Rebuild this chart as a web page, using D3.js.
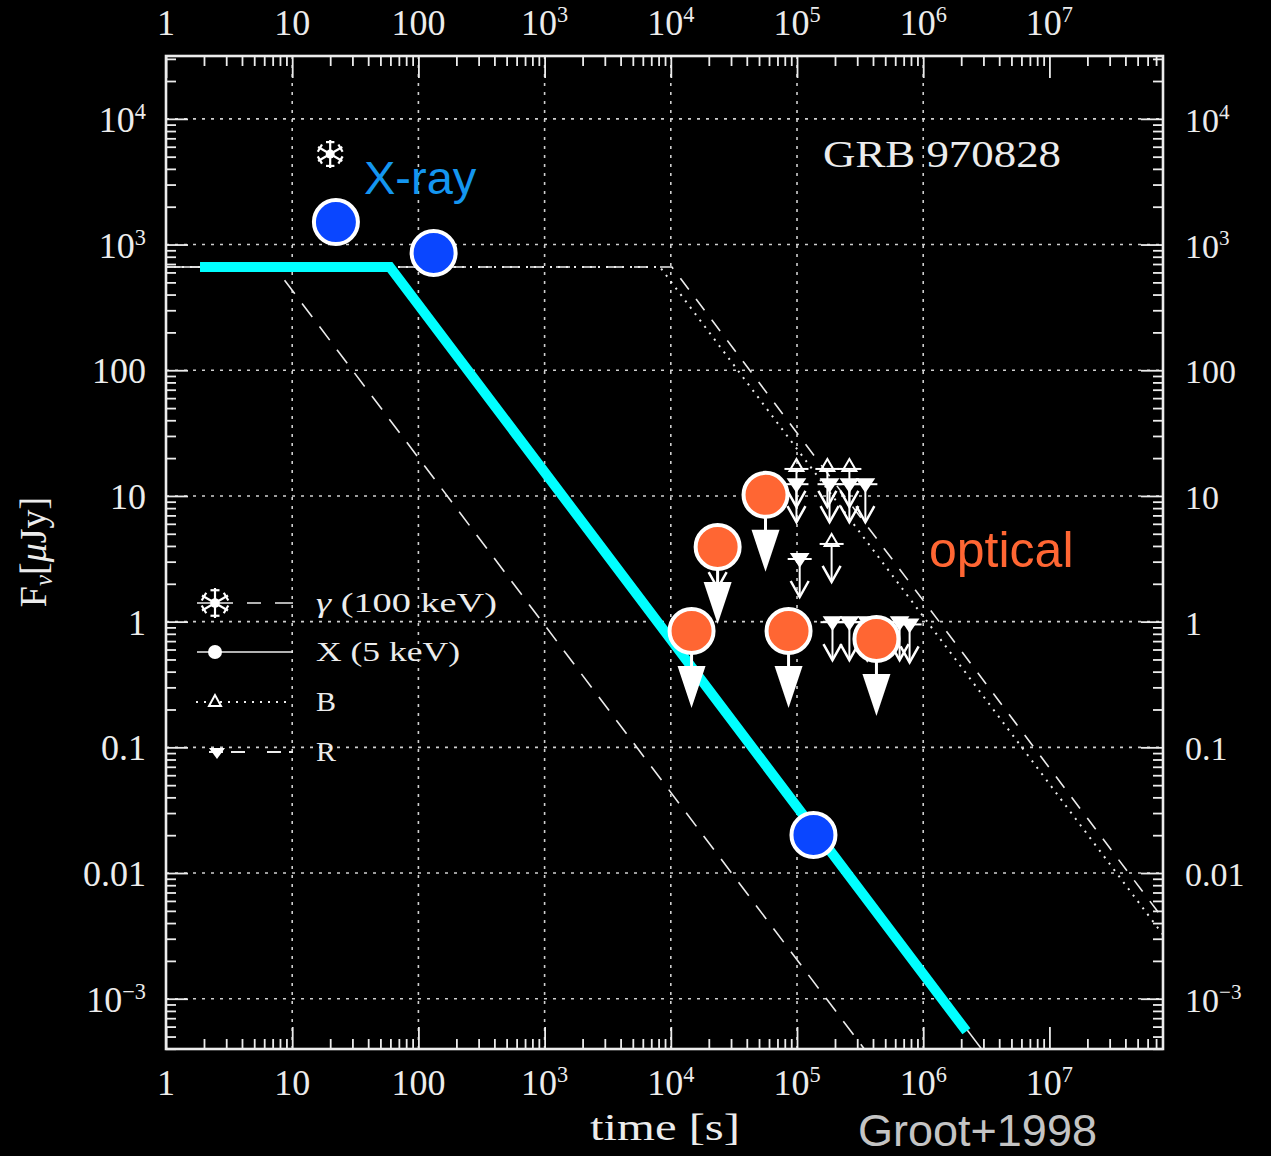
<!DOCTYPE html>
<html><head><meta charset="utf-8">
<script src="https://cdn.jsdelivr.net/npm/d3@7"></script>
<style>html,body{margin:0;padding:0;background:#000;} svg{display:block}</style>
</head><body>
<svg id="chart" width="1271" height="1156"></svg>
<script>
// ---------------- data ----------------
const xTickValues = [1, 10, 100, 1e3, 1e4, 1e5, 1e6, 1e7];
const xTickLabels = ["1", "10", "100", "10^3", "10^4", "10^5", "10^6", "10^7"];
const yTickValues = [1e-3, 0.01, 0.1, 1, 10, 100, 1e3, 1e4];
const yTickLabels = ["10^−3", "0.01", "0.1", "1", "10", "100", "10^3", "10^4"];
const xGridValues = [10, 100, 1e3, 1e4, 1e5, 1e6];

// gamma-ray point (100 keV)
const gammaT = [20];
const gammaF = [5250];
// X-ray points (highlighted)
const xrayT = [22.2, 132, 1.35e5];
const xrayF = [1510, 857, 0.0201];
// optical upper limits (highlighted)
const opticalT = [5.63e4, 2.35e4, 1.46e4, 8.57e4, 4.26e5];
const opticalF = [10.2, 3.93, 0.843, 0.843, 0.728];
// original B-band upper limits
const bLimT = [9.9e4, 1.74e5, 2.6e5, 1.88e5];
const bLimF = [16.4, 16.4, 16.4, 4.15];
// original R-band upper limits
const rLimT = [9.9e4, 1.81e5, 2.6e5, 3.48e5, 1.05e5, 1.91e5, 2.6e5, 3.6e5, 6.5e5, 7.8e5, 2.35e4];
const rLimF = [12.4, 12.4, 12.4, 12.4, 3.15, 0.99, 0.99, 0.99, 0.99, 0.95, 3.7];

// model curves
const gModelT = [8.7, 3.4e5];
const gModelF = [520, 4e-4];
const xModelT = [1, 59.4, 2.9e6];
const xModelF = [663, 663, 3.98e-4];
const bModelT = [1, 8200, 8e7];
const bModelF = [663, 663, 3.2e-3];
const rModelT = [1, 1.02e4, 8e7];
const rModelF = [663, 663, 4.3e-3];
const cyanT = [1.86, 59.4, 2.2e6];
const cyanF = [663, 663, 5.5e-4];

// ---------------- chart ----------------
const svg = d3.select("#chart");
svg.append("rect").attr("width", 1271).attr("height", 1156).attr("fill", "#000");

const L = 166, R = 1163, T = 56, B = 1049;
const x = d3.scaleLog().domain([1, Math.pow(10, 7.9)]).range([L, R]);
const y = d3.scaleLog().domain([Math.pow(10, -3.4), Math.pow(10, 4.5)]).range([B, T]);

const SERIF = "'Liberation Serif','DejaVu Serif',serif";
const SANS = "'Liberation Sans',Arial,sans-serif";
const WHITE = "#ececec";

// grid
const grid = svg.append("g").attr("stroke", "#cfcfcf").attr("stroke-width", 1.6)
  .attr("stroke-dasharray", "3,6");
grid.selectAll("line.v").data(xGridValues).join("line")
  .attr("x1", d => x(d)).attr("x2", d => x(d)).attr("y1", T).attr("y2", B);
grid.selectAll("line.h").data(yTickValues).join("line")
  .attr("y1", d => y(d)).attr("y2", d => y(d)).attr("x1", L).attr("x2", R);

// model lines
const line = d3.line().x(d => x(d[0])).y(d => y(d[1]));
const zip = (a, b) => a.map((v, i) => [v, b[i]]);
const models = svg.append("g").attr("fill", "none").attr("stroke", WHITE);
models.append("path").attr("d", line(zip(gModelT, gModelF))).attr("stroke-width", 1.6).attr("stroke-dasharray", "17,12");
models.append("path").attr("d", line(zip(xModelT, xModelF))).attr("stroke-width", 1.5);
models.append("path").attr("d", line(zip(bModelT, bModelF))).attr("stroke-width", 2).attr("stroke-dasharray", "2,6");
models.append("path").attr("d", line(zip(rModelT, rModelF))).attr("stroke-width", 1.6).attr("stroke-dasharray", "14,12");

// glyph helpers
function starGlyph(sel, cx, cy, r) {
  const g = sel.append("g").attr("transform", `translate(${cx},${cy})`);
  [90, 30, -30].forEach(a => {
    const rad = a * Math.PI / 180, dx = r * Math.cos(rad), dy = r * Math.sin(rad);
    g.append("line").attr("x1", -dx).attr("y1", -dy).attr("x2", dx).attr("y2", dy);
    [1, -1].forEach(s => {
      const px = -Math.sin(rad) * r * 0.3, py = Math.cos(rad) * r * 0.3;
      g.append("line").attr("x1", s * dx * 0.85 - px).attr("y1", s * dy * 0.85 - py)
        .attr("x2", s * dx * 0.85 + px).attr("y2", s * dy * 0.85 + py);
    });
  });
  g.append("circle").attr("r", r * 0.32).attr("fill", "#fff");
  g.selectAll("line").attr("stroke", "#fff").attr("stroke-width", 2.2);
  return g;
}
function limitGlyph(sel, cx, cy, type) {
  const g = sel.append("g").attr("transform", `translate(${cx},${cy})`)
    .attr("stroke", "#fff").attr("stroke-width", 2).attr("fill", "none");
  g.append("line").attr("x1", -12).attr("x2", 12).attr("y1", 0).attr("y2", 0);
  g.append("line").attr("x1", 0).attr("x2", 0).attr("y1", 0).attr("y2", 38);
  g.append("polyline").attr("points", "-9,22 0,38 9,22").attr("stroke-width", 2.5);
  if (type === "B") {
    g.append("polygon").attr("points", "0,-10 -7,2 7,2");
  } else {
    g.append("polygon").attr("points", "-8,-5 8,-5 0,7").attr("fill", "#fff");
  }
}

// original symbols
const orig = svg.append("g");
bLimT.forEach((t, i) => limitGlyph(orig, x(t), y(bLimF[i]), "B"));
rLimT.forEach((t, i) => limitGlyph(orig, x(t), y(rLimF[i]), "R"));
gammaT.forEach((t, i) => starGlyph(orig, x(t), y(gammaF[i]), 14));

// axes (ticks inward)
function minorTicks(lo, hi) {
  const out = [];
  for (let e = Math.floor(Math.log10(lo)); e <= Math.ceil(Math.log10(hi)); e++)
    for (let m = 2; m <= 9; m++) {
      const v = m * Math.pow(10, e);
      if (v > lo && v < hi) out.push(v);
    }
  return out;
}
const xMinor = minorTicks(1, Math.pow(10, 7.9));
const yMinor = minorTicks(Math.pow(10, -3.4), Math.pow(10, 4.5));
const axG = svg.append("g");
function addAxis(axisFn, scale, vals, size, transform) {
  const g = axG.append("g").attr("transform", transform)
    .call(axisFn(scale).tickValues(vals).tickSize(size).tickFormat(""));
  g.select(".domain").remove();
  g.selectAll(".tick line").attr("stroke", WHITE).attr("stroke-width", 1.8);
}
addAxis(d3.axisTop, x, xTickValues, -22, `translate(0,${T})`);
addAxis(d3.axisTop, x, xMinor, -10, `translate(0,${T})`);
addAxis(d3.axisBottom, x, xTickValues, -22, `translate(0,${B})`);
addAxis(d3.axisBottom, x, xMinor, -10, `translate(0,${B})`);
addAxis(d3.axisLeft, y, yTickValues, -22, `translate(${L},0)`);
addAxis(d3.axisLeft, y, yMinor, -10, `translate(${L},0)`);
addAxis(d3.axisRight, y, yTickValues, -22, `translate(${R},0)`);
addAxis(d3.axisRight, y, yMinor, -10, `translate(${R},0)`);
axG.append("rect").attr("x", L).attr("y", T).attr("width", R - L)
  .attr("height", B - T).attr("fill", "none").attr("stroke", WHITE).attr("stroke-width", 2.6);

// tick labels
function label(sel, str, px, py, anchor, size) {
  const parts = str.split("^");
  const t = sel.append("text").attr("x", px).attr("y", py).attr("text-anchor", anchor)
    .attr("font-family", SERIF).attr("font-size", size).attr("fill", WHITE);
  t.append("tspan").text(parts[0]);
  if (parts[1]) t.append("tspan").attr("dy", -13).attr("font-size", size * 0.62).text(parts[1]);
  return t;
}
const labG = svg.append("g");
xTickValues.forEach((v, i) => {
  label(labG, xTickLabels[i], x(v), 35, "middle", 36);
  label(labG, xTickLabels[i], x(v), 1095, "middle", 36);
});
yTickValues.forEach((v, i) => {
  label(labG, yTickLabels[i], 146, y(v) + 13, "end", 36);
  label(labG, yTickLabels[i], 1185, y(v) + 13, "start", 34);
});

// axis titles
svg.append("text").attr("x", 665).attr("y", 1140).attr("text-anchor", "middle")
  .attr("font-family", SERIF).attr("font-size", 38).attr("fill", WHITE)
  .attr("textLength", 150).attr("lengthAdjust", "spacingAndGlyphs").text("time [s]");
const yl = svg.append("text").attr("transform", "translate(46,552) rotate(-90)")
  .attr("text-anchor", "middle").attr("font-family", SERIF).attr("font-size", 38).attr("fill", WHITE);
yl.append("tspan").text("F");
yl.append("tspan").attr("font-size", 25).attr("dy", 6).attr("font-style", "italic").text("ν");
yl.append("tspan").attr("dy", -6).text("[");
yl.append("tspan").attr("font-style", "italic").text("μ");
yl.append("tspan").text("Jy]");

svg.append("text").attr("x", 823).attr("y", 167).attr("font-family", SERIF).attr("font-size", 37)
  .attr("fill", WHITE).attr("textLength", 238).attr("lengthAdjust", "spacingAndGlyphs").text("GRB 970828");

// legend
const leg = svg.append("g").attr("fill", "none").attr("stroke", WHITE);
leg.append("line").attr("x1", 197).attr("x2", 293).attr("y1", 603).attr("y2", 603).attr("stroke-width", 1.6).attr("stroke-dasharray", "36,14,14,14");
starGlyph(svg, 215, 603, 15);
leg.append("line").attr("x1", 197).attr("x2", 293).attr("y1", 652).attr("y2", 652).attr("stroke-width", 1.6);
svg.append("circle").attr("cx", 215).attr("cy", 652).attr("r", 7).attr("fill", "#fff");
leg.append("line").attr("x1", 196).attr("x2", 292).attr("y1", 702).attr("y2", 702).attr("stroke-width", 2).attr("stroke-dasharray", "2,6");
svg.append("polygon").attr("points", "215,695 209,706 221,706").attr("fill", "#000").attr("stroke", "#fff").attr("stroke-width", 2);
leg.append("line").attr("x1", 195).attr("x2", 293).attr("y1", 752).attr("y2", 752).attr("stroke-width", 1.8).attr("stroke-dasharray", "0,14,14,8,14,8");
svg.append("polygon").attr("points", "209,748 225,748 217,759").attr("fill", "#fff");
const legText = [["γ (100 keV)", 612, 181], ["X (5 keV)", 661, 144], ["B", 711, 20], ["R", 761, 20]];
legText.forEach(d => {
  const t = svg.append("text").attr("x", 316).attr("y", d[1]).attr("font-family", SERIF)
    .attr("font-size", 28).attr("fill", WHITE).attr("textLength", d[2]).attr("lengthAdjust", "spacingAndGlyphs");
  if (d[0].startsWith("γ")) {
    t.append("tspan").attr("font-style", "italic").text("γ");
    t.append("tspan").text(" (100 keV)");
  } else t.text(d[0]);
});

// highlighted overlay
svg.append("path").attr("d", line(zip(cyanT, cyanF))).attr("fill", "none")
  .attr("stroke", "#00FFFF").attr("stroke-width", 10);

const blue = svg.append("g");
xrayT.forEach((t, i) => {
  blue.append("circle").attr("cx", x(t)).attr("cy", y(xrayF[i])).attr("r", 22)
    .attr("fill", "#0A46FF").attr("stroke", "#fff").attr("stroke-width", 4);
});
const orange = svg.append("g");
opticalT.forEach((t, i) => {
  const cx = x(t), cy = y(opticalF[i]);
  orange.append("line").attr("x1", cx).attr("x2", cx).attr("y1", cy + 22).attr("y2", cy + 38)
    .attr("stroke", "#fff").attr("stroke-width", 3);
  orange.append("polygon").attr("points", `${cx - 14},${cy + 35} ${cx + 14},${cy + 35} ${cx},${cy + 77}`).attr("fill", "#fff");
  orange.append("circle").attr("cx", cx).attr("cy", cy).attr("r", 22)
    .attr("fill", "#FF6633").attr("stroke", "#fff").attr("stroke-width", 4);
});

svg.append("text").attr("x", 364).attr("y", 194).attr("font-family", SANS).attr("font-size", 47)
  .attr("fill", "#1496F0").text("X-ray");
svg.append("text").attr("x", 929).attr("y", 567).attr("font-family", SANS).attr("font-size", 50)
  .attr("fill", "#FF6633").text("optical");
svg.append("text").attr("x", 858).attr("y", 1146).attr("font-family", SANS).attr("font-size", 45)
  .attr("fill", "#c4c4c4").text("Groot+1998");
</script>
</body></html>
